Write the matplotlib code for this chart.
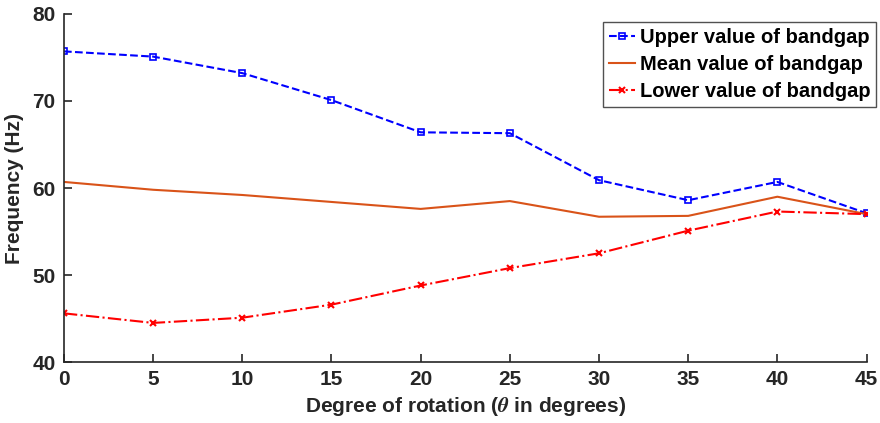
import matplotlib
matplotlib.use("Agg")
import matplotlib.pyplot as plt

# ── Data ─────────────────────────────────────────────────────────────
rotation = [0, 5, 10, 15, 20, 25, 30, 35, 40, 45]
upper = [75.7, 75.1, 73.2, 70.1, 66.4, 66.3, 60.9, 58.6, 60.7, 57.1]
mean = [60.7, 59.8, 59.2, 58.4, 57.6, 58.5, 56.7, 56.8, 59.0, 57.0]
lower = [45.6, 44.5, 45.1, 46.6, 48.8, 50.8, 52.5, 55.1, 57.3, 57.0]

plt.rcParams["font.family"] = ["Liberation Sans", "DejaVu Sans"]
plt.rcParams["font.weight"] = "bold"
plt.rcParams["mathtext.fontset"] = "stix"

fig = plt.figure(figsize=(8.8, 4.23), dpi=100)
ax = fig.add_axes([0.0727, 0.144, 0.912, 0.823])

ax.plot(rotation, upper, linestyle="--", color="#0000FF", marker="s",
        markersize=5, markerfacecolor="none", markeredgewidth=1.2,
        linewidth=1.5, label="Upper value of bandgap")
ax.plot(rotation, mean, linestyle="-", color="#D95319", linewidth=1.5,
        label="Mean value of bandgap")
ax.plot(rotation, lower, linestyle="-.", color="#FF0000", marker="x",
        markersize=5, markeredgewidth=1.5, linewidth=1.5,
        label="Lower value of bandgap")

ax.set_xlim(0, 45)
ax.set_ylim(40, 80)
ax.set_xticks(rotation)
ax.set_yticks([40, 50, 60, 70, 80])
ax.tick_params(direction="in", length=6, width=1.2, labelsize=15,
               colors="#262626", pad=6)
for lbl in ax.get_xticklabels() + ax.get_yticklabels():
    lbl.set_fontweight("bold")
for s in ["top", "right"]:
    ax.spines[s].set_visible(False)
for s in ["left", "bottom"]:
    ax.spines[s].set_linewidth(1.2)
    ax.spines[s].set_color("#262626")

ax.set_xlabel(r"Degree of rotation ($\theta$ in degrees)", fontsize=15,
              fontweight="bold", color="#262626", labelpad=4)
ax.set_ylabel("Frequency (Hz)", fontsize=15, fontweight="bold",
              color="#262626", labelpad=6)

leg = ax.legend(loc="upper right", bbox_to_anchor=(1.012, 0.977), fontsize=14.5,
                frameon=True, fancybox=False, handlelength=1.3,
                handletextpad=0.2, borderpad=0.3, labelspacing=0.4,
                borderaxespad=0)
leg.get_frame().set_edgecolor("#262626")
leg.get_frame().set_linewidth(1.0)
for t in leg.get_texts():
    t.set_fontweight("bold")

fig.savefig("out.png", dpi=100)
